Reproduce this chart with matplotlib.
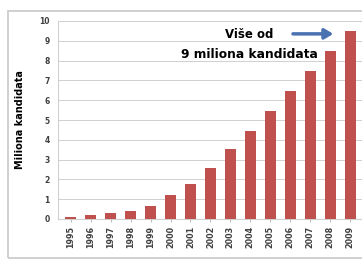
import matplotlib.pyplot as plt
from matplotlib.patches import Rectangle

years = ['1995', '1996', '1997', '1998', '1999', '2000', '2001', '2002',
         '2003', '2004', '2005', '2006', '2007', '2008', '2009']
candidates = [0.1, 0.2, 0.3, 0.4, 0.67, 1.2, 1.78, 2.56, 3.55, 4.46,
              5.47, 6.48, 7.49, 8.46, 9.47]

W, H = 362, 261
fig = plt.figure(figsize=(W / 100, H / 100), dpi=100)

# gray frame round the chart
fig.patches.append(Rectangle((8 / W, 3 / H), 1.0, (H - 14) / H,
                             transform=fig.transFigure, fill=False,
                             edgecolor='#c8c8c8', linewidth=1.2))

ax = fig.add_axes([58 / W, 42 / H, (W - 58) / W, 198 / H])
x = range(len(years))
ax.bar(x, candidates, width=0.55, color='#c0504d', zorder=3)

ax.set_ylim(0, 10)
ax.set_xlim(-0.64, 14.6)
ax.set_yticks(range(0, 11))
ax.set_xticks(list(x))
ax.set_xticklabels(years, rotation=90, fontsize=5.8, color='#404040')
ax.tick_params(axis='y', labelsize=5.5, labelcolor='#404040', length=0, pad=6)
for lab in ax.get_yticklabels() + ax.get_xticklabels():
    lab.set_fontweight('bold')
ax.tick_params(axis='x', length=2, color='#bbbbbb', pad=3)
ax.grid(axis='y', color='#d0d0d0', linewidth=0.7, zorder=0)
for s in ['top', 'right']:
    ax.spines[s].set_visible(False)
ax.spines['left'].set_color('#d0d0d0')
ax.spines['bottom'].set_color('#d0d0d0')
ax.set_ylabel('Miliona kandidata', fontsize=7, fontweight='bold', labelpad=10)

ax.text(8.95, 9.3, 'Više od', fontsize=8.5, fontweight='bold', ha='center', va='center')
ax.text(8.95, 8.3, '9 miliona kandidata', fontsize=8.8, fontweight='bold',
        ha='center', va='center')
ax.annotate('', xy=(13.3, 9.35), xytext=(11.0, 9.35),
            arrowprops=dict(arrowstyle='-|>,head_length=0.5,head_width=0.3',
                            color='#4a72b0', lw=2.5))

fig.savefig('out.png', dpi=100)
